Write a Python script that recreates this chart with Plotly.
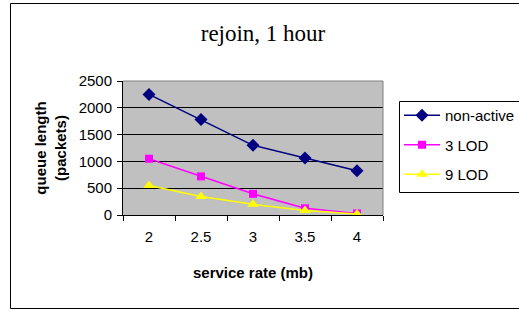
import plotly.graph_objects as go

service_rate = ["2", "2.5", "3", "3.5", "4"]
non_active = [2250, 1780, 1300, 1065, 825]
lod3 = [1050, 720, 395, 125, 30]
lod9 = [550, 345, 200, 85, 20]

W, H = 519, 311
L, R, T, B = 123, 383, 81, 215
pw, ph = R - L, B - T

def px(x):
    return (x - L) / pw

def py(y):
    return (B - y) / ph

fig = go.Figure()
series = [
    ("non-active", non_active, "#000080", "diamond", 10),
    ("3 LOD", lod3, "#FF00FF", "square", 8),
    ("9 LOD", lod9, "#FFFF00", "triangle-up", 10),
]
for name, vals, col, sym, sz in series:
    fig.add_trace(go.Scatter(
        x=service_rate, y=vals, name=name, mode="lines+markers",
        line=dict(color=col, width=1.5),
        marker=dict(symbol=sym, size=sz, color=col, line=dict(width=0)),
        legendgroup=name,
    ))

fig.update_layout(
    width=W, height=H,
    margin=dict(l=L, r=W - R, t=T, b=H - B, autoexpand=False),
    paper_bgcolor="white",
    plot_bgcolor="#C0C0C0",
    font=dict(family="Arial, Liberation Sans", size=15, color="black"),
    title=dict(text="rejoin, 1 hour", font=dict(family="Times New Roman, Liberation Serif", size=23, color="black"),
               x=263 / W, xanchor="center", y=1 - 33 / H, yanchor="middle"),
    xaxis=dict(type="category", range=[-0.5, 4.5], showgrid=False, tickson="boundaries",
               ticks="outside", ticklen=5, tickcolor="black", showline=True, linecolor="black", linewidth=1,
               ticklabelstandoff=8, tickfont=dict(size=15),
               title=dict(text="<b>service rate (mb)</b>", font=dict(size=15), standoff=23)),
    yaxis=dict(range=[0, 2500], dtick=500, showgrid=True, gridcolor="black", gridwidth=1,
               ticks="outside", ticklen=5, tickcolor="black", showline=True, linecolor="black", linewidth=1,
               zeroline=False, tickfont=dict(size=15), ticklabelstandoff=2,
               title=dict(text="<b>queue length<br>(packets)</b>", font=dict(size=15), standoff=8)),
    legend=dict(x=px(399), xanchor="left", y=py(99), yanchor="top",
                borderwidth=0, bgcolor="rgba(0,0,0,0)",
                font=dict(size=15), traceorder="grouped", tracegroupgap=7, itemwidth=36),
    showlegend=True,
    shapes=[
        dict(type="rect", xref="paper", yref="paper", x0=px(10.5), x1=px(530), y0=py(308.5), y1=py(3.5),
             line=dict(color="black", width=1), fillcolor="rgba(0,0,0,0)", layer="below"),
        dict(type="rect", xref="paper", yref="paper", x0=px(399.5), x1=px(530), y0=py(192.5), y1=py(101.5),
             line=dict(color="black", width=1), fillcolor="white", layer="below"),
        dict(type="line", xref="paper", yref="paper", x0=0, x1=1, y0=1, y1=1, line=dict(color="#808080", width=1)),
        dict(type="line", xref="paper", yref="paper", x0=1, x1=1, y0=0, y1=1, line=dict(color="#808080", width=1)),
    ],
)

fig.write_html("out.html", config={"displayModeBar": False},
               post_script="document.body.style.margin='0';document.body.style.overflow='hidden';")
